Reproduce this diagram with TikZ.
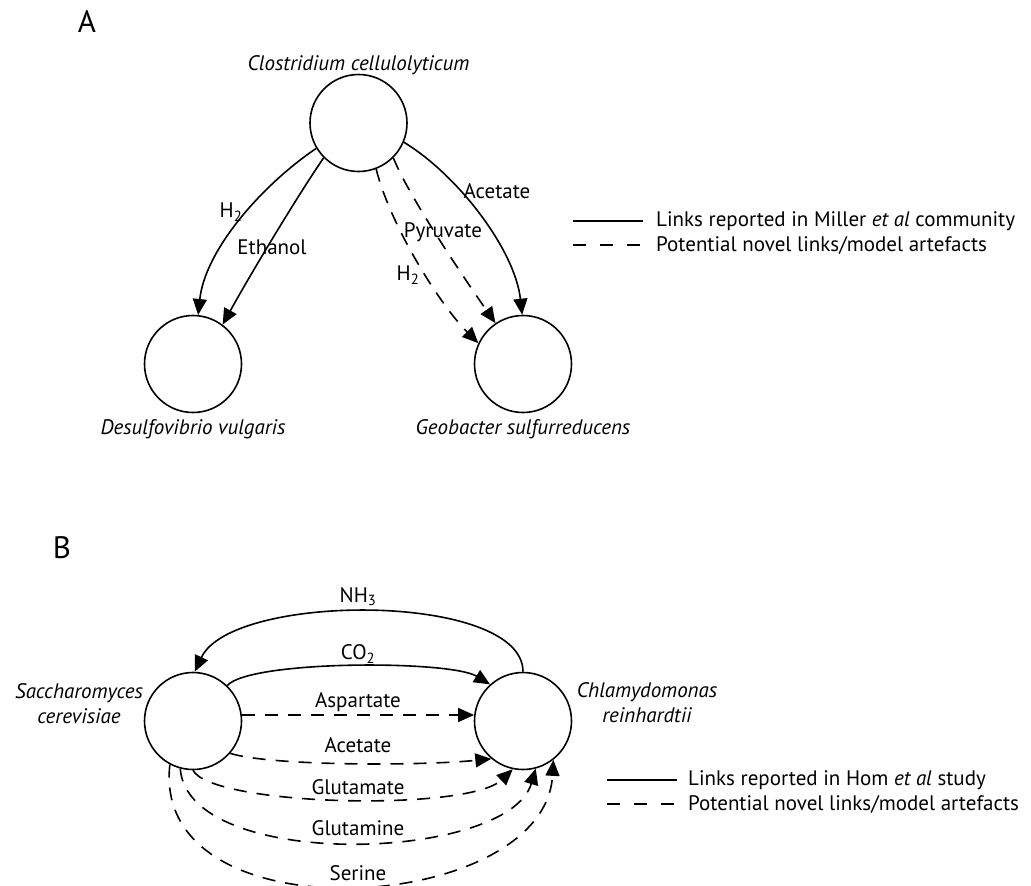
\documentclass[tikz,border=0pt]{standalone}
\usepackage{fontspec}
\setmainfont{PT Sans}
\usetikzlibrary{arrows.meta}
\begin{document}
\begin{tikzpicture}[x=1pt,y=-1pt,
  cell/.style={circle,draw,line width=1.6pt,minimum size=97pt,inner sep=0pt},
  link/.style={line width=1.6pt,-{Triangle[length=16pt,width=14pt]}},
  novel/.style={link,dash pattern=on 13pt off 10pt},
  lbl/.style={font=\fontsize{21}{25}\selectfont,inner sep=0pt},
  sp/.style={font=\fontsize{21}{25}\selectfont\itshape,inner sep=0pt,align=center},
  legline/.style={line width=1.6pt},
  legdash/.style={line width=1.6pt,dash pattern=on 13pt off 14pt},
  legtext/.style={font=\fontsize{21}{25}\selectfont,inner sep=0pt,anchor=west},
  panel/.style={font=\fontsize{31}{34}\selectfont,inner sep=0pt}]
\useasboundingbox (0,0) rectangle (1031,886);

% ---------------- Panel A ----------------
\node[panel] (pA) at (87,21) {A};
\node[cell] (Cc) at (358.5,123) {};
\node[cell] (Dv) at (193,364) {};
\node[cell] (Gs) at (523,364) {};
\node[sp] (tCc) at (358.5,65) {Clostridium cellulolyticum};
\node[sp] (tDv) at (193,429) {Desulfovibrio vulgaris};
\node[sp] (tGs) at (523,429) {Geobacter sulfurreducens};

\draw[link] (Cc.-149) .. controls (262,185) and (205,250) .. (Dv.84);
\draw[link] (Cc.-135) .. controls (298,195) and (250,275) .. (Dv.53);
\draw[novel] (Cc.-69) .. controls (390,225) and (440,305) .. (Gs.155);
\draw[novel] (Cc.-45) .. controls (408,195) and (462,275) .. (Gs.124);
\draw[link] (Cc.-23) .. controls (458,175) and (515,250) .. (Gs.91);

\node[lbl] (lH2a) at (231,212) {H\textsubscript{2}};
\node[lbl] (lEth) at (272,247) {Ethanol};
\node[lbl] (lPyr) at (443,232) {Pyruvate};
\node[lbl] (lH2b) at (408,275) {H\textsubscript{2}};
\node[lbl] (lAce) at (497,191) {Acetate};

% legend A
\coordinate (la1) at (573,221);
\coordinate (la2) at (643,221);
\coordinate (la3) at (573,245);
\coordinate (la4) at (643,245);
\draw[legline] (la1) -- (la2);
\draw[legdash] (la3) -- (la4);
\node[legtext] (lta) at (656,221) {Links reported in Miller \textit{et al} community};
\node[legtext] (ltb) at (656,245) {Potential novel links/model artefacts};

% ---------------- Panel B ----------------
\node[panel] (pB) at (62,548) {B};
\node[cell] (Sc) at (193,721) {};
\node[cell] (Cr) at (523,721) {};
\node[sp] (tSc) at (79,704) {Saccharomyces\\cerevisiae};
\node[sp] (tCr) at (647,703) {Chlamydomonas\\reinhardtii};

\draw[link] (Cr.90) .. controls (523,592) and (232,592) .. (Sc.88);
\draw[link] (Sc.46) .. controls (250,660) and (450,660) .. (Cr.132);
\draw[novel] (Sc.7) -- (Cr.173);
\draw[novel] (Sc.-41) .. controls (270,766) and (420,766) .. (Cr.-130);
\draw[novel] (Sc.-90) .. controls (212,806) and (468,812) .. (Cr.-102);
\draw[novel] (Sc.-105) .. controls (188,872) and (508,862) .. (Cr.-75);
\draw[novel] (Sc.-118) .. controls (150,940) and (545,915) .. (Cr.-52);

\node[lbl] (lNH3) at (358,597) {NH\textsubscript{3}};
\node[lbl] (lCO2) at (358,654) {CO\textsubscript{2}};
\node[lbl] (lAsp) at (358,702) {Aspartate};
\node[lbl] (lAc) at (358,745) {Acetate};
\node[lbl] (lGlu) at (358,787) {Glutamate};
\node[lbl] (lGln) at (358,828) {Glutamine};
\node[lbl] (lSer) at (358,873) {Serine};

% legend B
\coordinate (lb1) at (607,780);
\coordinate (lb2) at (677,780);
\coordinate (lb3) at (607,804);
\coordinate (lb4) at (677,804);
\draw[legline] (lb1) -- (lb2);
\draw[legdash] (lb3) -- (lb4);
\node[legtext] (ltc) at (688,780) {Links reported in Hom \textit{et al} study};
\node[legtext] (ltd) at (688,804) {Potential novel links/model artefacts};
\end{tikzpicture}
\end{document}
